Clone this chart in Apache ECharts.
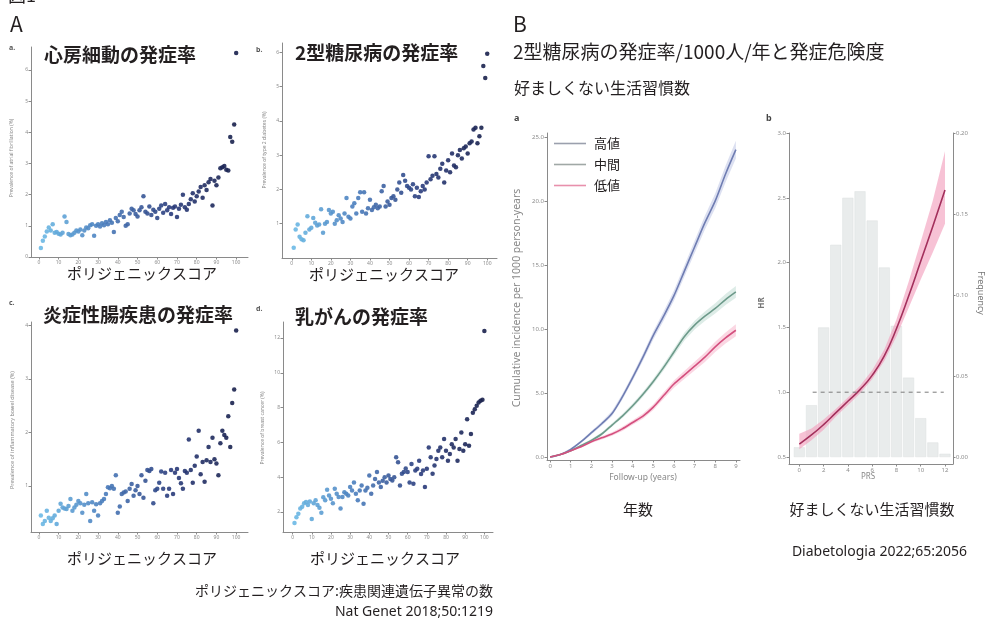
<!DOCTYPE html>
<html>
<head>
<meta charset="utf-8">
<script src="https://cdn.jsdelivr.net/npm/echarts@6/dist/echarts.min.js"></script>
<style>
html, body { margin: 0; padding: 0; background: #fff; }
#chart { width: 985px; height: 622px; }
</style>
</head>
<body>
<div id="chart"></div>
<script>
const FONT_JP = '"Noto Sans CJK JP", "Noto Sans", sans-serif';
const FONT_LAT = '"Noto Sans", "DejaVu Sans", sans-serif';

// A: prevalence (%) by polygenic score percentile 1..100
const percentiles = Array.from({ length: 100 }, (_, i) => i + 1);
const afPrev = [
    0.29, 0.52, 0.66, 0.82, 0.95, 0.85, 1.05, 0.78, 0.80, 0.75,
    0.72, 0.78, 1.30, 1.12, 0.74, 0.70, 0.72, 0.78, 0.85, 0.82,
    0.88, 0.70, 0.85, 0.95, 0.92, 1.02, 1.05, 0.68, 1.00, 1.05,
    0.98, 1.08, 1.02, 1.12, 1.05, 1.18, 1.10, 0.80, 1.25, 1.15,
    1.35, 1.45, 1.28, 1.00, 1.05, 1.40, 1.55, 1.50, 1.38, 1.30,
    1.50, 1.60, 1.95, 1.45, 1.40, 1.62, 1.35, 1.52, 1.45, 1.25,
    1.55, 1.65, 1.42, 1.70, 1.50, 1.60, 1.38, 1.58, 1.62, 1.28,
    1.55, 1.68, 2.00, 1.60, 1.52, 1.70, 1.85, 2.05, 1.78, 1.95,
    2.10, 2.25, 1.90, 2.30, 2.15, 2.40, 2.50, 1.65, 2.45, 2.30,
    2.55, 2.85, 2.88, 2.92, 2.80, 2.78, 3.85, 3.70, 4.25, 6.55,
];
const t2dPrev = [
    0.30, 0.83, 0.98, 0.62, 0.55, 0.52, 0.74, 1.22, 0.83, 0.88,
    1.17, 1.03, 0.95, 0.98, 1.42, 0.74, 1.00, 1.05, 1.40, 1.30,
    1.35, 1.00, 1.10, 1.25, 1.15, 1.05, 1.30, 1.75, 1.20, 1.15,
    1.50, 1.60, 1.30, 1.75, 1.92, 1.35, 1.92, 1.30, 1.45, 1.70,
    1.40, 1.48, 1.55, 1.45, 1.50, 1.95, 2.10, 1.50, 1.65, 1.55,
    1.75, 1.80, 1.70, 2.00, 2.20, 1.90, 2.42, 2.25, 2.10, 2.05,
    2.00, 2.15, 1.80, 2.05, 1.78, 1.95, 2.10, 2.00, 2.20, 2.97,
    2.30, 2.40, 2.97, 2.45, 2.35, 2.60, 2.75, 2.20, 2.55, 2.85,
    2.50, 3.05, 2.70, 2.65, 3.00, 3.15, 2.90, 3.20, 3.25, 3.05,
    3.35, 3.40, 3.75, 3.80, 3.35, 3.55, 3.80, 5.60, 5.25, 5.96,
];
const ibdPrev = [
    0.45, 0.29, 0.35, 0.54, 0.41, 0.35, 0.40, 0.45, 0.29, 0.54,
    0.67, 0.60, 0.58, 0.57, 0.63, 0.76, 0.54, 0.60, 0.65, 0.72,
    0.68, 0.50, 0.65, 0.85, 0.68, 0.35, 0.70, 0.54, 0.66, 0.45,
    0.68, 0.72, 0.76, 0.85, 0.98, 0.96, 1.00, 0.95, 1.20, 0.50,
    0.62, 0.85, 0.88, 0.90, 0.72, 0.95, 1.04, 0.82, 0.92, 1.00,
    0.85, 1.20, 0.78, 1.10, 1.30, 1.28, 1.32, 0.68, 0.92, 0.95,
    1.06, 1.27, 0.95, 1.25, 0.82, 0.95, 1.30, 0.85, 1.25, 1.32,
    1.15, 1.05, 0.95, 1.28, 1.25, 1.87, 1.30, 1.06, 1.38, 1.55,
    2.03, 1.22, 1.45, 1.08, 1.48, 1.73, 1.45, 1.90, 1.50, 1.42,
    1.20, 1.80, 2.03, 1.95, 1.90, 2.30, 1.73, 2.55, 2.80, 3.90,
];
const bcPrev = [
    1.37, 1.70, 1.90, 2.20, 2.30, 2.50, 2.57, 2.40, 2.60, 1.60,
    2.50, 2.67, 2.40, 2.25, 1.95, 2.85, 2.67, 3.28, 2.95, 2.76,
    2.50, 3.33, 3.05, 2.86, 2.20, 2.86, 3.14, 3.05, 2.95, 3.43,
    3.24, 3.70, 3.05, 2.67, 3.24, 3.52, 2.48, 3.24, 3.40, 4.10,
    3.05, 3.52, 3.90, 4.30, 3.70, 3.43, 3.80, 4.00, 3.70, 4.10,
    3.90, 3.81, 4.00, 5.15, 4.86, 3.52, 4.20, 4.30, 4.50, 4.30,
    3.70, 4.76, 3.62, 4.38, 4.48, 4.95, 4.19, 4.38, 3.43, 4.48,
    5.70, 5.14, 4.20, 4.67, 5.05, 5.52, 5.70, 5.14, 6.20, 5.52,
    4.95, 5.33, 5.90, 5.70, 6.19, 4.95, 5.62, 6.57, 5.52, 5.90,
    7.33, 5.81, 6.48, 7.70, 7.90, 8.10, 8.30, 8.40, 8.45, 12.40,
];
const pgsTicks = [0, 10, 20, 30, 40, 50, 60, 70, 80, 90, 100];
const afTicks = [0, 1, 2, 3, 4, 5, 6];
const t2dTicks = [1, 2, 3, 4, 5, 6];
const ibdTicks = [1, 2, 3, 4];
const bcTicks = [2, 4, 6, 8, 10, 12];

// B-a: cumulative incidence per 1000 person-years
const followYears = [0, 0.5, 1, 1.5, 2, 2.5, 3, 3.5, 4, 4.5, 5, 5.5, 6, 6.5, 7, 7.5, 8, 8.5, 9];
const cumHigh = [0, 0.2, 0.6, 1.2, 1.9, 2.6, 3.4, 4.7, 6.2, 7.8, 9.5, 11.0, 12.6, 14.5, 16.4, 18.3, 20.0, 22.1, 24.0];
const cumMid  = [0, 0.2, 0.5, 0.9, 1.3, 1.8, 2.5, 3.2, 4.0, 4.9, 5.9, 7.0, 8.2, 9.4, 10.3, 11.0, 11.6, 12.3, 12.9];
const cumLow  = [0, 0.2, 0.5, 0.8, 1.2, 1.5, 1.8, 2.2, 2.7, 3.2, 3.9, 4.8, 5.7, 6.4, 7.1, 7.8, 8.6, 9.3, 9.9];
// confidence half widths
const ciHigh = [0, 0.05, 0.08, 0.1, 0.13, 0.16, 0.19, 0.22, 0.25, 0.28, 0.32, 0.36, 0.4, 0.44, 0.48, 0.53, 0.58, 0.64, 0.7];
const ciMid  = [0, 0.04, 0.06, 0.08, 0.1, 0.12, 0.14, 0.16, 0.18, 0.2, 0.22, 0.25, 0.28, 0.31, 0.34, 0.37, 0.4, 0.43, 0.46];
const ciLow  = [0, 0.04, 0.06, 0.08, 0.1, 0.12, 0.14, 0.16, 0.18, 0.2, 0.22, 0.25, 0.28, 0.31, 0.34, 0.37, 0.4, 0.43, 0.46];
const yearTicks = [0, 1, 2, 3, 4, 5, 6, 7, 8, 9];
const cumTicks = [0, 5, 10, 15, 20, 25];
const groupNames = ['高値', '中間', '低値'];

// B-b: HR by PRS, with frequency histogram
const prsBins = [0, 1, 2, 3, 4, 5, 6, 7, 8, 9, 10, 11, 12];
const prsFreq = [0.006, 0.032, 0.080, 0.131, 0.160, 0.164, 0.146, 0.117, 0.081, 0.049, 0.024, 0.009, 0.002];
const hrFit   = [0.60, 0.67, 0.75, 0.84, 0.93, 1.02, 1.13, 1.28, 1.49, 1.74, 2.01, 2.28, 2.56];
const hrLower = [0.56, 0.63, 0.71, 0.81, 0.90, 0.99, 1.10, 1.24, 1.43, 1.65, 1.87, 2.08, 2.30];
const hrUpper = [0.68, 0.72, 0.79, 0.87, 0.96, 1.05, 1.17, 1.33, 1.56, 1.85, 2.16, 2.48, 2.86];
const refLine = [[1.1, 1], [11.9, 1]];
const prsTicks = [0, 2, 4, 6, 8, 10, 12];
const hrTicks = [0.5, 1, 1.5, 2, 2.5, 3];
const freqTicks = [0, 0.05, 0.1, 0.15, 0.2];

const chart = echarts.init(document.getElementById('chart'));

function axis(grid, min, max, ticks, opts = {}) {
    return {
        type: 'value', gridIndex: grid, min, max,
        position: opts.position,
        axisLine: { show: true, onZero: false, lineStyle: { color: '#8a8a8a', width: 1 } },
        axisTick: { show: true, length: 2.5, customValues: ticks, lineStyle: { color: '#8a8a8a' } },
        axisLabel: {
            customValues: ticks, fontSize: opts.fs || 5, color: '#8c8c8c',
            margin: 3, fontFamily: FONT_LAT, formatter: opts.fmt,
        },
        splitLine: { show: false },
    };
}

function label(text, x, y, size, o = {}) {
    return {
        type: 'text', x, y, rotation: o.rot || 0, z: 100,
        style: {
            text, fill: o.color || '#231f20', fontSize: size,
            fontFamily: o.family || FONT_JP, fontWeight: o.weight || 'normal',
            align: o.align || 'left', verticalAlign: 'middle',
        },
    };
}

function scatter(i, values) {
    return {
        type: 'scatter', xAxisIndex: i, yAxisIndex: i, symbolSize: 4.5,
        data: values.map((v, k) => [percentiles[k], v]),
        itemStyle: { opacity: 0.9 },
    };
}

// shaded confidence band drawn as one polygon through the axis scales
function band(axisIdx, yIdx, xs, lo, hi, color, opacity) {
    return {
        type: 'custom', xAxisIndex: axisIdx, yAxisIndex: yIdx, z: 2, silent: true,
        data: xs.map((x, k) => [x, lo[k], hi[k]]),
        renderItem(params, api) {
            if (params.dataIndex !== 0) return null;
            const upper = xs.map((x, k) => api.coord([x, hi[k]]));
            const lower = xs.map((x, k) => api.coord([x, lo[k]])).reverse();
            return {
                type: 'polygon',
                shape: { points: upper.concat(lower) },
                style: { fill: color, opacity },
            };
        },
    };
}

function curve(name, vals, color) {
    return {
        type: 'line', name, xAxisIndex: 4, yAxisIndex: 4, symbol: 'none', smooth: 0.3, z: 3,
        lineStyle: { color, width: 1.6 }, itemStyle: { color },
        data: followYears.map((t, k) => [t, vals[k]]),
    };
}

const fmt1 = v => v.toFixed(1);
const fmt2 = v => v.toFixed(2);
const minus = (a, b) => a.map((v, k) => v - b[k]);
const plus = (a, b) => a.map((v, k) => v + b[k]);

const option = {
    animation: false,
    backgroundColor: '#fff',
    grid: [
        { left: 31, top: 47, width: 217, height: 210 },
        { left: 282, top: 43, width: 215, height: 215 },
        { left: 31, top: 322, width: 217, height: 210 },
        { left: 283, top: 322, width: 210, height: 210 },
        { left: 547, top: 133, width: 193, height: 327 },
        { left: 789, top: 133, width: 164, height: 331 },
    ],
    xAxis: [
        axis(0, -4, 106, pgsTicks),
        axis(1, -5, 105, pgsTicks),
        axis(2, -4, 106, pgsTicks),
        axis(3, -5, 104.5, pgsTicks),
        axis(4, -0.15, 9.2, yearTicks, { fs: 6 }),
        axis(5, -0.85, 12.66, prsTicks, { fs: 6 }),
    ],
    yAxis: [
        axis(0, 0, 6.74, afTicks),
        axis(1, 0, 6.27, t2dTicks),
        axis(2, 0.143, 4.06, ibdTicks),
        axis(3, 0.85, 12.92, bcTicks),
        axis(4, -0.23, 25.3, cumTicks, { fs: 6, fmt: fmt1 }),
        axis(5, 0.446, 3.0, hrTicks, { fs: 6, fmt: fmt1 }),
        axis(5, -0.0043, 0.2, freqTicks, { fs: 6, fmt: fmt2, position: 'right' }),
    ],
    visualMap: {
        show: false, type: 'continuous', dimension: 0, min: 0, max: 100,
        seriesIndex: [0, 1, 2, 3],
        inRange: { color: ['#6cbbe6', '#4a7cbc', '#2a3c7c', '#18204c'] },
    },
    legend: {
        left: 549, top: 132, orient: 'vertical', itemWidth: 32, itemHeight: 1.6, itemGap: 8,
        icon: 'rect',
        textStyle: { fontFamily: FONT_JP, fontSize: 13, color: '#231f20', padding: [0, 0, 0, 3] },
        data: [
            { name: groupNames[0], itemStyle: { color: '#9ba0ad' } },
            { name: groupNames[1], itemStyle: { color: '#a0a8a6' } },
            { name: groupNames[2], itemStyle: { color: '#e890ac' } },
        ],
    },
    series: [
        scatter(0, afPrev),
        scatter(1, t2dPrev),
        scatter(2, ibdPrev),
        scatter(3, bcPrev),
        band(4, 4, followYears, minus(cumHigh, ciHigh), plus(cumHigh, ciHigh), '#8a98d0', 0.3),
        band(4, 4, followYears, minus(cumMid, ciMid), plus(cumMid, ciMid), '#8fc0ae', 0.3),
        band(4, 4, followYears, minus(cumLow, ciLow), plus(cumLow, ciLow), '#f59ab9', 0.4),
        curve(groupNames[0], cumHigh, '#6f7db2'),
        curve(groupNames[1], cumMid, '#6d9a8a'),
        curve(groupNames[2], cumLow, '#d4507f'),
        {
            type: 'bar', xAxisIndex: 5, yAxisIndex: 6, barWidth: 11, z: 1,
            itemStyle: { color: '#e9ecec', borderColor: '#dde1e1', borderWidth: 0.5 },
            data: prsBins.map((b, k) => [b, prsFreq[k]]),
        },
        band(5, 5, prsBins, hrLower, hrUpper, '#f2a2bf', 0.65),
        {
            type: 'line', xAxisIndex: 5, yAxisIndex: 5, symbol: 'none', smooth: 0.5, z: 3,
            lineStyle: { color: '#a3305c', width: 1.6 },
            data: prsBins.map((b, k) => [b, hrFit[k]]),
        },
        {
            type: 'line', xAxisIndex: 5, yAxisIndex: 5, symbol: 'none', z: 3,
            lineStyle: { color: '#7a7a7a', width: 1, type: [4, 4] },
            data: refLine,
        },
    ],
    graphic: [
        label('図1', 8, -5, 18),
        label('A', 10, 24, 21),
        label('B', 513, 24, 21),
        label('2型糖尿病の発症率/1000人/年と発症危険度', 513, 52, 19),
        label('好ましくない生活習慣数', 514, 88, 16),
        // panel titles
        label('心房細動の発症率', 44, 55, 19, { weight: 'bold' }),
        label('2型糖尿病の発症率', 295, 53, 19, { weight: 'bold' }),
        label('炎症性腸疾患の発症率', 43, 315, 19, { weight: 'bold' }),
        label('乳がんの発症率', 295, 317, 19, { weight: 'bold' }),
        label('a.', 9, 48, 7, { weight: 'bold', family: FONT_LAT, color: '#555' }),
        label('b.', 256, 50, 7, { weight: 'bold', family: FONT_LAT, color: '#555' }),
        label('c.', 9, 303, 7, { weight: 'bold', family: FONT_LAT, color: '#555' }),
        label('d.', 256, 309, 7, { weight: 'bold', family: FONT_LAT, color: '#555' }),
        label('a', 514, 118, 9, { weight: 'bold', family: FONT_LAT, color: '#444' }),
        label('b', 766, 118, 9, { weight: 'bold', family: FONT_LAT, color: '#444' }),
        // x axis captions
        label('ポリジェニックスコア', 142, 273, 15, { align: 'center' }),
        label('ポリジェニックスコア', 384, 274, 15, { align: 'center' }),
        label('ポリジェニックスコア', 142, 558, 15, { align: 'center' }),
        label('ポリジェニックスコア', 385, 558, 15, { align: 'center' }),
        label('年数', 638, 509, 15, { align: 'center' }),
        label('好ましくない生活習慣数', 872, 509, 15, { align: 'center' }),
        // tiny english axis names
        label('Prevalence of atrial fibrillation (%)', 12, 158, 5, { align: 'center', rot: Math.PI / 2, family: FONT_LAT, color: '#888' }),
        label('Prevalence of type 2 diabetes (%)', 265, 150, 5, { align: 'center', rot: Math.PI / 2, family: FONT_LAT, color: '#888' }),
        label('Prevalence of inflammatory bowel disease (%)', 12, 430, 5.5, { align: 'center', rot: Math.PI / 2, family: FONT_LAT, color: '#888' }),
        label('Prevalence of breast cancer (%)', 263, 428, 5, { align: 'center', rot: Math.PI / 2, family: FONT_LAT, color: '#888' }),
        label('Cumulative incidence per 1000 person-years', 517, 298, 10.5, { align: 'center', rot: Math.PI / 2, family: FONT_LAT, color: '#888' }),
        label('Follow-up (years)', 643, 478, 8.5, { align: 'center', family: FONT_LAT, color: '#888' }),
        label('HR', 762, 303, 8, { align: 'center', rot: Math.PI / 2, family: FONT_LAT, color: '#777', weight: 'bold' }),
        label('PRS', 868, 477, 8, { align: 'center', family: FONT_LAT, color: '#888' }),
        label('Frequency', 981, 293, 9, { align: 'center', rot: -Math.PI / 2, family: FONT_LAT, color: '#777' }),
        // sources
        label('Diabetologia 2022;65:2056', 967, 552, 14, { align: 'right', family: FONT_LAT }),
        label('ポリジェニックスコア:疾患関連遺伝子異常の数', 493, 591, 14, { align: 'right' }),
        label('Nat Genet 2018;50:1219', 493, 612, 14, { align: 'right', family: FONT_LAT }),
    ],
};

chart.setOption(option);
</script>
</body>
</html>
